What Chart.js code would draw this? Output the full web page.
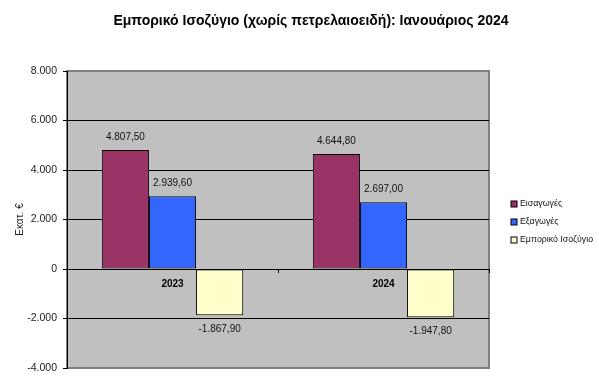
<!DOCTYPE html>
<html>
<head>
<meta charset="utf-8">
<script src="https://cdn.jsdelivr.net/npm/chart.js@4"></script>
<style>
  html, body { margin: 0; padding: 0; background: #fff; }
  #wrap { width: 599px; height: 384px; position: relative; }
</style>
</head>
<body>
<div id="wrap"><canvas id="c" width="599" height="384"></canvas></div>
<script>
const TITLE = "Εμπορικό Ισοζύγιο (χωρίς πετρελαιοειδή): Ιανουάριος 2024";
const YEARS = ["2023", "2024"];
const IMPORTS = [4807.5, 4644.8];
const EXPORTS = [2939.6, 2697.0];
const BALANCE = [-1867.9, -1947.8];
const SERIES_NAMES = ["Εισαγωγές", "Εξαγωγές", "Εμπορικό Ισοζύγιο"];
const COLORS = ["#993366", "#3366ff", "#ffffcc"];
const Y_TITLE = "Εκατ. €";
const FONT = "'Liberation Sans', Arial, sans-serif";

// greek number format: 4.807,50
const fmtGr = (v, dec) => {
  const neg = v < 0;
  const parts = Math.abs(v).toFixed(dec).split(".");
  const int = parts[0].replace(/\B(?=(\d{3})+(?!\d))/g, ".");
  return (neg ? "-" : "") + int + (parts[1] ? "," + parts[1] : "");
};

const plotBg = {
  id: "plotBg",
  beforeDraw(chart) {
    const { ctx, chartArea: a } = chart;
    ctx.save();
    ctx.fillStyle = "#c0c0c0";
    ctx.fillRect(a.left, a.top, a.right - a.left, a.bottom - a.top);
    ctx.strokeStyle = "#808080";
    ctx.lineWidth = 2;
    ctx.strokeRect(a.left, a.top, a.right - a.left, a.bottom - a.top);
    ctx.restore();
  },
};

const valueLabels = {
  id: "valueLabels",
  afterDatasetsDraw(chart) {
    const { ctx } = chart;
    ctx.save();
    ctx.font = "10px " + FONT;
    ctx.fillStyle = "#111";
    ctx.textAlign = "center";
    ctx.textBaseline = "middle";
    chart.data.datasets.forEach((ds, i) => {
      chart.getDatasetMeta(i).data.forEach((bar, j) => {
        const v = ds.data[j];
        const y = v >= 0 ? bar.y - 13 : bar.y + 14;
        ctx.fillText(fmtGr(v, 2), bar.x, y);
      });
    });
    ctx.restore();
  },
};

const sideLegend = {
  id: "sideLegend",
  afterDraw(chart) {
    const { ctx } = chart;
    ctx.save();
    ctx.font = "8.8px " + FONT;
    ctx.textBaseline = "middle";
    chart.data.datasets.forEach((ds, i) => {
      const y = 204 + i * 18;
      ctx.fillStyle = ds.backgroundColor;
      ctx.fillRect(511, y - 3, 6, 6);
      ctx.strokeStyle = "#000";
      ctx.lineWidth = 1;
      ctx.strokeRect(511, y - 3, 6, 6);
      ctx.fillStyle = "#111";
      ctx.fillText(ds.label, 520, y);
    });
    ctx.font = "bold 14px " + FONT;
    ctx.textAlign = "center";
    ctx.fillStyle = "#000";
    ctx.fillText(TITLE, 311, 21);
    ctx.restore();
  },
};

new Chart(document.getElementById("c"), {
  type: "bar",
  data: {
    labels: YEARS,
    datasets: [IMPORTS, EXPORTS, BALANCE].map((d, i) => ({
      label: SERIES_NAMES[i],
      data: d,
      backgroundColor: COLORS[i],
      borderColor: "#000",
      borderWidth: 1,
      borderSkipped: false,
      categoryPercentage: 0.67,
      barPercentage: 1,
    })),
  },
  options: {
    responsive: false,
    animation: false,
    layout: { padding: { left: 0, top: 71, right: 110, bottom: 16 } },
    plugins: { legend: { display: false }, title: { display: false }, tooltip: { enabled: false } },
    scales: {
      x: {
        position: { y: 0 },
        grid: { drawOnChartArea: false, drawTicks: true, tickLength: 4, color: "#000" },
        border: { display: false },
        ticks: { color: "#000", font: { family: FONT, size: 10, weight: "bold" }, padding: 5 },
      },
      y: {
        min: -4000,
        max: 8000,
        ticks: {
          stepSize: 2000,
          color: "#222",
          font: { family: FONT, size: 10.5 },
          padding: 6,
          callback: (v) => fmtGr(v, 0),
        },
        grid: {
          color: (c) => (c.tick && (c.tick.value === 8000 || c.tick.value === -4000) ? "#808080" : "#000"),
          tickColor: "#000",
          tickLength: 4,
          lineWidth: 1,
        },
        border: { display: true, color: "#000", width: 1 },
        title: { display: true, text: Y_TITLE, color: "#222", font: { family: FONT, size: 10 }, padding: { top: 14, bottom: 0 } },
        afterFit: (s) => { s.width = 67; },
      },
    },
  },
  plugins: [plotBg, valueLabels, sideLegend],
});
</script>
</body>
</html>
